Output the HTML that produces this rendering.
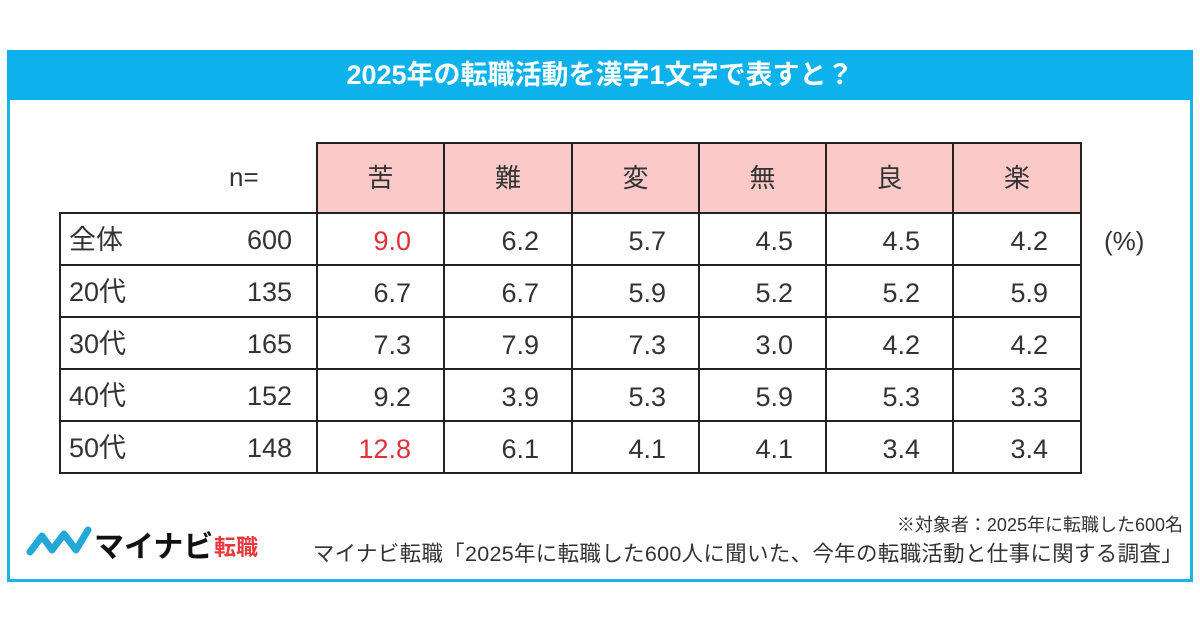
<!DOCTYPE html>
<html><head><meta charset="utf-8">
<style>
body{margin:0;width:1200px;height:630px;background:#fff;position:relative;overflow:hidden;font-family:"Liberation Sans","Noto Sans CJK JP",sans-serif;color:#333}
.frame{position:absolute;left:7px;top:50px;width:1180px;height:529px;border:3px solid #1ab4e8;border-top:none}
.title{position:absolute;left:7px;top:50px;width:1186px;height:50px;background:#0db2ec;color:#fff;font-size:27px;font-weight:bold;text-align:center;line-height:50px}
.c{position:absolute;box-sizing:border-box;font-size:27px;line-height:52px;height:52px}
.txt{position:absolute;font-size:26px}
</style></head><body>
<div class="frame"></div>
<div class="title">2025年の転職活動を漢字1文字で表すと？</div>
<div id="tbl"></div>
<div class="txt" style="left:229px;top:162px">n=</div>
<div class="txt" style="left:1104px;top:226px">(%)</div>
<div class="txt" style="right:17px;top:511px;font-size:18px">※対象者：2025年に転職した600名</div>
<div class="txt" style="right:17px;top:537px;font-size:21.5px;letter-spacing:0.3px">マイナビ転職「2025年に転職した600人に聞いた、今年の転職活動と仕事に関する調査」</div>
<div style="position:absolute;left:26px;top:522px;height:40px;width:250px">
<svg width="70" height="40" style="position:absolute;left:0;top:0"><path d="M4 30 L16 14 L26 28 L38 12 L50 28 L62 8" fill="none" stroke="#22a8d8" stroke-width="7" stroke-linecap="round" stroke-linejoin="round"/></svg>
<span style="position:absolute;left:68px;top:0;font-size:30px;font-weight:bold;color:#111">マイナビ</span>
<span style="position:absolute;left:188px;top:8px;font-size:22px;font-weight:bold;color:#e8383d">転職</span>
</div>
<script>
const headers=["苦","難","変","無","良","楽"];
const rowLabels=["全体","20代","30代","40代","50代"];
const nValues=[600,135,165,152,148];
const row0=[9.0,6.2,5.7,4.5,4.5,4.2];
const row1=[6.7,6.7,5.9,5.2,5.2,5.9];
const row2=[7.3,7.9,7.3,3.0,4.2,4.2];
const row3=[9.2,3.9,5.3,5.9,5.3,3.3];
const row4=[12.8,6.1,4.1,4.1,3.4,3.4];
const rows=[row0,row1,row2,row3,row4];
const redCells=[[0,0],[4,0]];
const tbl=document.getElementById('tbl');
const colX=[316,443,571,698,825,952,1080];
const rowY=[212,264,316,368,420,472];
function cell(x,y,w,h,text,style){
  const d=document.createElement('div');
  d.className='c';
  d.style.cssText=`left:${x}px;top:${y}px;width:${w}px;height:${h}px;line-height:${h-4}px;`+style;
  d.textContent=text;
  tbl.appendChild(d);
  return d;
}
headers.forEach((h,i)=>{
  const d=cell(colX[i],142,colX[i+1]-colX[i]+2,72,h,'background:#fcc9c9;border:2px solid #222;text-align:center;font-size:26px;');
  
  
});
rowLabels.forEach((lab,r)=>{
  const y=rowY[r],h=rowY[r+1]-y+2;
  const a=cell(59,y,259,h,'','border:2px solid #222;');
  
  
  const s1=document.createElement('span');s1.textContent=lab;s1.style.cssText='position:absolute;left:8px;top:1px';a.appendChild(s1);
  const s2=document.createElement('span');s2.textContent=nValues[r];s2.style.cssText='position:absolute;right:24px;top:1px';a.appendChild(s2);
  rows[r].forEach((v,c)=>{
    const red=redCells.some(p=>p[0]===r&&p[1]===c);
    const d=cell(colX[c],y,colX[c+1]-colX[c]+2,h,v.toFixed(1),'border:2px solid #222;text-align:right;padding-right:32px;padding-top:2px;'+(red?'color:#e0303a;':''));
    
    
  });
});
</script>
</body></html>
